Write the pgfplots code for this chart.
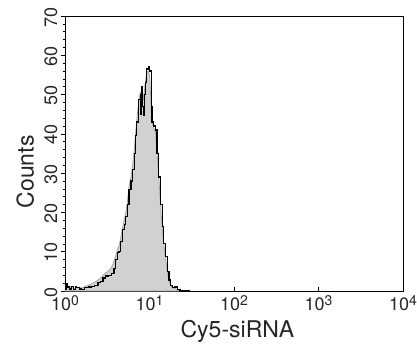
\documentclass[border=0pt]{standalone}
\usepackage{pgfplots}
\pgfplotsset{compat=1.18}
\usepackage{fontspec}
\setmainfont{TeX Gyre Heros}
\newcommand{\dec}[1]{10\raisebox{0.5ex}{\fontsize{14bp}{14bp}\selectfont #1}}
\begin{document}
\begin{tikzpicture}
\pgfplotstableread{
x y
1.000 2.0
1.023 1.0
1.072 1.5
1.122 1.0
1.202 1.2
1.288 0.6
1.380 1.0
1.479 0.8
1.585 0.8
1.738 1.2
1.905 1.5
2.042 1.8
2.239 2.2
2.455 2.8
2.630 3.3
2.818 4.0
3.020 4.6
3.236 5.0
3.548 6.0
3.802 7.5
3.981 9.0
4.169 10.5
4.365 11.5
4.571 13.5
4.786 16.0
5.012 18.0
5.248 20.0
5.495 23.0
5.715 26.5
6.026 29.0
6.310 32.0
6.607 36.0
6.839 40.0
7.079 43.5
7.482 48.5
7.762 50.5
7.943 50.0
8.128 51.5
8.318 50.0
8.511 49.0
8.710 51.0
8.913 53.0
9.226 55.5
9.661 56.0
10.00 55.0
10.47 47.0
10.72 43.0
11.22 41.5
11.75 40.5
12.30 35.0
12.88 29.0
13.49 22.0
14.13 16.0
14.79 11.5
15.49 8.5
16.22 5.0
16.98 2.8
17.78 1.5
18.62 0.8
19.95 0.7
21.38 0.3
22.91 0.0
}\fill
\pgfplotstableread{
x y
1.000 3.0
1.010 0.5
1.023 0.3
1.040 2.0
1.072 0.8
1.100 1.2
1.122 0.5
1.202 1.2
1.250 0.3
1.288 0.3
1.340 1.0
1.380 0.8
1.479 0.5
1.585 0.4
1.700 0.9
1.738 0.8
1.905 1.0
2.042 1.2
2.239 1.5
2.455 2.2
2.630 2.5
2.818 3.3
3.020 3.8
3.236 4.0
3.548 4.5
3.802 5.8
3.981 8.0
4.169 9.8
4.365 10.0
4.571 12.5
4.786 15.6
5.012 17.0
5.248 19.0
5.495 22.0
5.715 25.8
6.026 28.0
6.310 31.0
6.607 35.0
6.839 39.5
7.079 43.0
7.482 48.8
7.762 50.0
7.943 45.0
8.128 52.0
8.318 47.0
8.511 44.6
8.710 50.0
8.913 53.0
9.226 56.5
9.661 57.0
10.00 56.0
10.47 47.0
10.72 43.0
11.22 42.0
11.75 41.0
12.30 35.0
12.88 29.0
13.49 22.0
14.13 16.4
14.79 12.0
15.49 8.8
16.22 5.0
16.98 2.8
17.78 1.5
18.62 0.8
19.95 1.0
21.38 0.3
22.91 0.0
30.00 0.0
}\line
\begin{axis}[
  scale only axis,
  width=338bp, height=275bp,
  xmode=log, log basis x=10,
  xmin=1, xmax=10000,
  ymin=0, ymax=70,
  xtick={1,10,100,1000,10000},
  xticklabels={\dec{0},\dec{1},\dec{2},\dec{3},\dec{4}},
  ytick={0,10,...,70},
  minor y tick num=4,
  ytick align=outside,
  xtick align=inside,
  xtick pos=bottom, ytick pos=left,
  major tick length=4bp, minor tick length=2.5bp,
  tick style={black, line width=0.5pt},
  axis line style={black, line width=0.8pt},
  ticklabel style={font=\fontsize{18bp}{18bp}\selectfont, text=black!85},
  yticklabel style={rotate=90, anchor=south, xshift=-1bp},
  xticklabel style={yshift=-1bp},
  /pgf/number format/assume math mode=true,
  xlabel={Cy5-siRNA},
  ylabel={Counts},
  label style={font=\fontsize{23bp}{23bp}\selectfont, text=black!85},
  xlabel style={at={(axis description cs:0.51,-0.148)}, anchor=center},
  ylabel style={at={(axis description cs:-0.118,0.433)}, anchor=center},
  clip=true,
]
\addplot[fill=black!18, draw=black!35, line width=0.8pt] table {\fill} \closedcycle;
\addplot[black, line width=1.2pt, const plot] table {\line};
\end{axis}
\pgfresetboundingbox
\path (-65bp,-53bp) rectangle (352bp,291bp);
\end{tikzpicture}
\end{document}
